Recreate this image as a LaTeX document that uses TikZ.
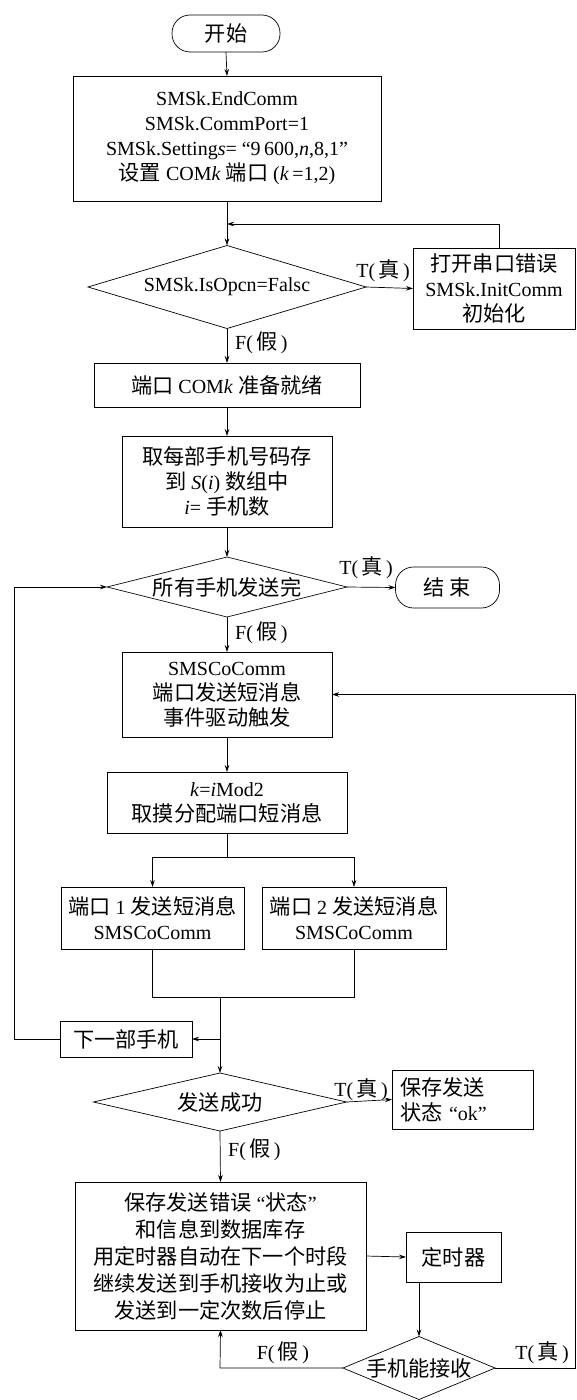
\documentclass[tikz,border=0pt]{standalone}
\usepackage{fontspec}
\setmainfont{Liberation Serif}
\newfontfamily\cjk[Scale=1.06]{Noto Sans CJK SC}
\newcommand{\zh}[1]{{\cjk #1}}
\newcommand{\labT}{T(\,\zh{真}\,)}
\newcommand{\labF}{F(\,\zh{假}\,)}
\usetikzlibrary{shapes.geometric,arrows.meta,calc}
\begin{document}
\begin{tikzpicture}[x=1pt,y=-1pt,
  every node/.style={font=\fontsize{20}{25}\selectfont},
  base/.style={draw, line width=0.7pt, inner sep=0pt, outer sep=0pt, align=center},
  box/.style={base, rectangle},
  term/.style={base, rectangle, rounded corners=18pt},
  dec/.style={base, diamond, inner ysep=-3pt},
  con/.style={line width=0.7pt},
  arr/.style={con, -{Stealth[length=7pt,width=4.5pt]}},
  lbl/.style={inner sep=0pt}
]
\useasboundingbox (0,0) rectangle (576,1400);

% nodes
\node[term, minimum width=108pt, minimum height=37pt] (start) at (226,33.5) {\zh{开始}};
\node[box, minimum width=308pt, minimum height=125pt] (b1) at (227,138.5)
  {SMSk.EndComm\\SMSk.CommPort=1\\SMSk.Setting\textit{s}= “9\,600,\textit{n},8,1”\\\zh{设置} COM\textit{k} \zh{端口} (\textit{k}\,=1,2)};
\node[dec, minimum width=278pt, minimum height=83pt, aspect=3.35] (d1) at (227,287) {SMSk.IsOpcn=Falsc};
\node[box, minimum width=162pt, minimum height=81pt] (init) at (494,288.5)
  {\zh{打开串口错误}\\SMSk.InitComm\\\zh{初始化}};
\node[box, minimum width=266pt, minimum height=44pt] (b2) at (227,385) {\zh{端口} COM\textit{k} \zh{准备就绪}};
\node[box, minimum width=210pt, minimum height=91pt] (b3) at (227,481.5)
  {\zh{取每部手机号码存}\\\zh{到} \textit{S}(\textit{i}) \zh{数组中}\\\textit{i}= \zh{手机数}};
\node[dec, minimum width=240pt, minimum height=60pt, aspect=4] (d2) at (227,587) {\zh{所有手机发送完}};
\node[term, minimum width=104pt, minimum height=41pt] (end) at (447.5,587.5) {\zh{结 束}};
\node[box, minimum width=210pt, minimum height=85pt] (b4) at (227,694.5)
  {SMSCoComm\\\zh{端口发送短消息}\\\zh{事件驱动触发}};
\node[box, minimum width=240pt, minimum height=61pt] (b5) at (227,802.5)
  {\textit{k}=\textit{i}Mod2\\\zh{取摸分配端口短消息}};
\node[box, minimum width=183pt, minimum height=62pt] (b6) at (152.5,918)
  {\zh{端口} 1 \zh{发送短消息}\\SMSCoComm};
\node[box, minimum width=184pt, minimum height=62pt] (b7) at (354,918)
  {\zh{端口} 2 \zh{发送短消息}\\SMSCoComm};
\node[box, minimum width=132pt, minimum height=36pt] (next) at (126,1039) {\zh{下一部手机}};
\node[dec, minimum width=253pt, minimum height=58pt, aspect=4.36] (d3) at (220,1102) {\zh{发送成功}};
\node[box, minimum width=141pt, minimum height=59pt, text width=125pt, align=left] (ok) at (462.5,1099.5)
  {\zh{保存发送}\\\zh{状态} “ok”};
\node[box, minimum width=291pt, minimum height=148pt, font=\fontsize{20}{27}\selectfont] (b8) at (220.5,1256)
  {\zh{保存发送错误} “\zh{状态}”\\\zh{和信息到数据库存}\\\zh{用定时器自动在下一个时段}\\\zh{继续发送到手机接收为止或}\\\zh{发送到一定次数后停止}};
\node[box, minimum width=95pt, minimum height=50pt] (timer) at (453.5,1257) {\zh{定时器}};
\node[dec, minimum width=152pt, minimum height=63pt, aspect=2.41] (d4) at (419,1368) {\zh{手机能接收}};

% helper coordinates
\coordinate (j1) at (227,224);
\coordinate (split) at (227,857);
\coordinate (merge) at (220,997);
\coordinate (j2) at (220,1039);
\coordinate (lx) at (14,1039);
\coordinate (fl) at (220,1368);
\coordinate (rx) at (575,1368);

% connectors
\draw[arr] (start.south) -- (b1.north);
\draw[arr] (b1.south) -- (d1.north);
\draw[arr] ([xshift=5pt]init.north) |- (j1);
\draw[arr] (d1.east) -- (init.west);
\draw[arr] (d1.south) -- (b2.north);
\draw[arr] (b2.south) -- (b3.north);
\draw[arr] (b3.south) -- (d2.north);
\draw[arr] (d2.east) -- (end.west);
\draw[arr] (d2.south) -- (b4.north);
\draw[arr] (b4.south) -- (b5.north);
\draw[con] (b5.south) -- (split);
\draw[arr] (split) -| (b6.north);
\draw[arr] (split) -| (b7.north);
\draw[con] (b6.south) |- (merge);
\draw[con] (b7.south) |- (merge);
\draw[arr] (merge) -- (d3.north);
\draw[arr] (j2) -- (next.east);
\draw[arr] (next.west) -- (lx) |- (d2.west);
\draw[arr] (d3.east) -- (ok.west);
\draw[arr] (d3.south) -- (b8.north);
\draw[arr] (b8.east) -- (timer.west);
\draw[arr] (timer.south -| d4.north) -- (d4.north);
\draw[arr] (d4.west) -- (fl) -- (b8.south);
\draw[arr] (d4.east) -- (rx) |- (b4.east);

% labels
\node[lbl] (t1) at (383,271) {\labT};
\node[lbl, anchor=west] (f1) at (235,343) {\labF};
\node[lbl] (t2) at (366,568) {\labT};
\node[lbl, anchor=west] (f2) at (235,633) {\labF};
\node[lbl] (t3) at (361,1090) {\labT};
\node[lbl, anchor=west] (f3) at (228,1150) {\labF};
\node[lbl] (f4) at (283,1353) {\labF};
\node[lbl] (t4) at (542,1353) {\labT};
\end{tikzpicture}
\end{document}
